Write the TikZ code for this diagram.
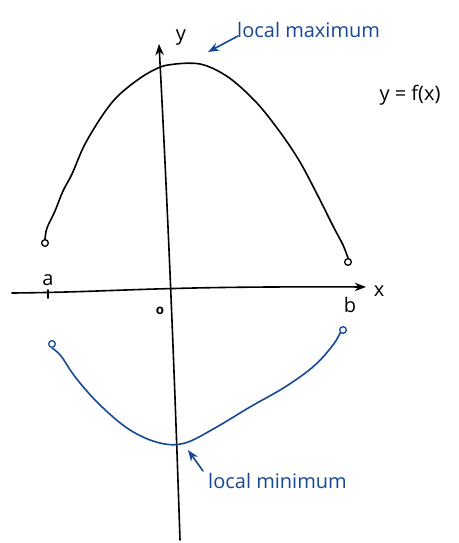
\documentclass[tikz,border=0pt]{standalone}
\usepackage{fontspec}
\setmainfont{Open Sans}
\usetikzlibrary{arrows.meta}
\definecolor{penblue}{RGB}{22,72,150}

\begin{document}
\begin{tikzpicture}[>=Stealth, x=0.75pt, y=-0.75pt, line width=1.2pt, line cap=round,
        every node/.style={font=\fontsize{15}{18}\selectfont},
        dot/.style={circle, draw, inner sep=0pt, minimum size=5pt, line width=1pt}]
            \useasboundingbox (0,0) rectangle (459,543);
            % axes
            \coordinate (xs) at (12,293);
            \coordinate (xe) at (366,287);
            \coordinate (ys) at (180,540);
            \coordinate (ye) at (159,44);
            \draw[->] (xs) .. controls (120,292) and (150,286) .. (xe);
            \draw[->] (ys) .. controls (176,420) and (170,250) .. (ye);
            \node (xlab) at (379,291) {x};
            \node (ylab) at (181,38) {y};
            % end points and marks
            \node[dot] (pa) at (45,243) {};
            \node[dot] (pb) at (348,262) {};
            \node[dot, penblue] (qa) at (52,344) {};
            \node[dot, penblue] (qb) at (343,330) {};
            \draw (48,290) -- (48,298);
            \node (la) at (48,280) {a};
            \node (lb) at (350,305) {b};
            \node[font=\bfseries] (lo) at (160,311) {o};
            % curves
            \draw plot[smooth, tension=0.55] coordinates {(pa.north) (47,228) (55,211) (63,191) (72,174) (84,146) (100,119) (115,99) (132,84) (150,72) (168,65) (200,64) (228,77) (256,102) (280,132) (300,162) (318,196) (333,226) (343,245) (pb.north)};
            \draw[penblue] plot[smooth, tension=0.6] coordinates {(qa.south) (61,356) (76,378) (100,405) (130,430) (160,443) (185,443) (215,428) (250,407) (285,387) (314,366) (333,345) (qb.south west)};
            % labels
            \node[penblue, right] (lmax) at (232,30) {local maximum};
            \node[penblue, right] (lmin) at (203,481) {local minimum};
            \node (fx) at (410,95) {y = f(x)};
            \draw[->, penblue] (lmax.west) ++(6,6) -- (208,52);
            \draw[->, penblue] (lmin.west) ++(0,-10) -- (188,450);
\end{tikzpicture}
\end{document}
